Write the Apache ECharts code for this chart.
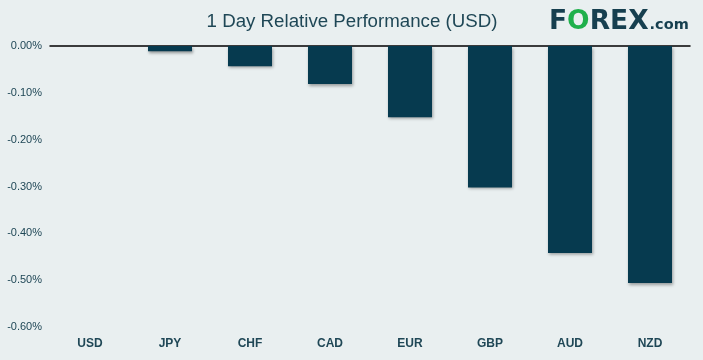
<!DOCTYPE html>
<html><head><meta charset="utf-8">
<script src="https://cdn.jsdelivr.net/npm/echarts@6/dist/echarts.min.js"></script>
<style>html,body{margin:0;padding:0;background:#e9eff0;}#c{width:703px;height:360px;}</style>
</head><body><div id="c"></div>
<script>
var categories = ['USD','JPY','CHF','CAD','EUR','GBP','AUD','NZD'];
var values = [0, -0.011, -0.043, -0.081, -0.152, -0.302, -0.442, -0.506];
var yTicks = [0, -0.1, -0.2, -0.3, -0.4, -0.5, -0.6];
var titleText = '1 Day Relative Performance (USD)';

var chart = echarts.init(document.getElementById('c'), null, {renderer:'canvas'});
chart.setOption({
  backgroundColor: '#e9eff0',
  animation: false,
  title: [{
    text: titleText, left: 347, top: 7, textAlign: 'center',
    textStyle: {fontFamily: 'Liberation Sans, Arial', fontSize: 18.7, fontWeight: 'normal', color: '#1f4756'}
  }, {
    text: '{d|F}{g|O}{d|REX}{s|.com}', left: 544, top: 4,
    textStyle: {rich: {
      d: {fontFamily: 'DejaVu Sans', fontWeight: 'bold', fontSize: 26.5, color: '#163f4f'},
      g: {fontFamily: 'DejaVu Sans', fontWeight: 'bold', fontSize: 26.5, color: '#1fb04b'},
      s: {fontFamily: 'DejaVu Sans', fontWeight: 'bold', fontSize: 14.5, color: '#163f4f', padding:[6,0,0,1]}
    }}
  }],
  grid: {left: 50, right: 13, top: 46, bottom: 33, containLabel: false},
  xAxis: {
    type: 'category', data: categories, position: 'top',
    axisLine: {show: true, lineStyle: {color: '#000', width: 1.5}},
    axisTick: {show: false},
    axisLabel: {show: false}
  },
  yAxis: {
    type: 'value', min: -0.6, max: 0, interval: 0.1,
    splitLine: {show: false}, axisLine: {show: false}, axisTick: {show: false},
    axisLabel: {
      margin: 8, fontFamily: 'Liberation Sans, Arial', fontSize: 11, color: '#1f4756',
      formatter: function (v) { return v.toFixed(2) + '%'; }
    }
  },
  series: [{
    type: 'bar', data: values, barWidth: 44,
    itemStyle: {color: '#063a4f', shadowColor: 'rgba(0,0,0,0.35)', shadowBlur: 3, shadowOffsetX: 1, shadowOffsetY: 2}
  }],
  graphic: categories.map(function (c, i) {
    return {type: 'text', id: 'lbl' + i, style: {text: c, x: 0, y: 0, align: 'center', verticalAlign: 'middle',
      fontFamily: 'Liberation Sans, Arial', fontWeight: 'bold', fontSize: 12, fill: '#1f4756'}};
  })
});
// position x labels via the chart's own category scale
var opt = {graphic: categories.map(function (c, i) {
  var p = chart.convertToPixel({xAxisIndex: 0, yAxisIndex: 0}, [i, -0.6]);
  return {id: 'lbl' + i, x: p[0], y: 344};
})};
chart.setOption(opt);
</script></body></html>
